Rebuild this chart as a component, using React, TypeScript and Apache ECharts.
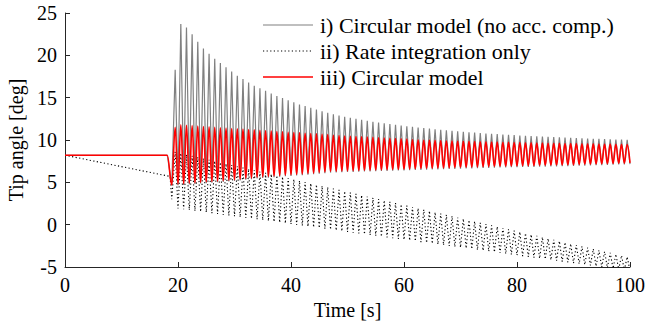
import React, { useEffect, useRef } from "react";
import * as echarts from "echarts";

// Tick labels
const xTicks = [0, 20, 40, 60, 80, 100];
const yTicks = [-5, 0, 5, 10, 15, 20, 25];

// Oscillation timing (one cycle per second, first peak at 19.5 s)
const firstPeakTime = 19.5;
const cyclePeriod = 1.0;

// Lead-in (before oscillation) points [time, value]
const grayLead: [number, number][] = [[0, 8.2], [18.1, 8.2], [18.9, 4.7]];
const redLead: [number, number][] = [[0, 8.2], [18.1, 8.2], [18.9, 4.7]];
const dotLead: [number, number][] = [[0, 8.2], [18.6, 5.7], [18.9, 3.0]];

// i) Circular model (no acc. comp.) – peaks at 19.5 + k s
const grayPeaks = [
  18.3, 23.7, 23.3, 22.5, 21.6, 20.8, 20.2, 19.6, 19.1, 18.6,
  18.1, 17.6, 17.2, 16.8, 16.4, 16.1, 15.8, 15.5, 15.2, 14.95,
  14.7, 14.45, 14.2, 14.0, 13.8, 13.6, 13.4, 13.22, 13.05, 12.9,
  12.75, 12.62, 12.5, 12.38, 12.27, 12.16, 12.06, 11.97, 11.88, 11.8,
  11.7, 11.62, 11.55, 11.48, 11.41, 11.34, 11.27, 11.2, 11.14, 11.08,
  11.02, 10.97, 10.92, 10.87, 10.82, 10.77, 10.73, 10.69, 10.65, 10.61,
  10.57, 10.53, 10.5, 10.46, 10.43, 10.4, 10.37, 10.34, 10.31, 10.28,
  10.25, 10.23, 10.2, 10.18, 10.15, 10.13, 10.11, 10.08, 10.06, 10.04,
  10.02,
];
// troughs at 20 + k s
const grayTroughs = [
  4.65, 4.7, 4.75, 4.8, 4.85, 4.9, 4.95, 5.0, 5.05, 5.1,
  5.15, 5.23, 5.3, 5.37, 5.45, 5.5, 5.55, 5.61, 5.65, 5.71,
  5.75, 5.8, 5.85, 5.9, 5.95, 6.02, 6.08, 6.15, 6.17, 6.19,
  6.21, 6.23, 6.25, 6.27, 6.29, 6.31, 6.33, 6.35, 6.37, 6.39,
  6.41, 6.43, 6.45, 6.47, 6.49, 6.51, 6.53, 6.55, 6.57, 6.59,
  6.61, 6.63, 6.65, 6.67, 6.69, 6.71, 6.73, 6.75, 6.76, 6.78,
  6.79, 6.81, 6.82, 6.83, 6.85, 6.86, 6.87, 6.89, 6.9, 6.92,
  6.94, 6.96, 6.98, 7.0, 7.02, 7.04, 7.06, 7.08, 7.1, 7.12,
  7.15,
];

// iii) Circular model
const redPeaks = [
  11.5, 11.8, 11.75, 11.7, 11.65, 11.6, 11.55, 11.5, 11.45, 11.4,
  11.36, 11.32, 11.28, 11.24, 11.2, 11.15, 11.1, 11.05, 11.0, 10.96,
  10.92, 10.88, 10.84, 10.8, 10.76, 10.72, 10.68, 10.63, 10.56, 10.52,
  10.48, 10.45, 10.41, 10.38, 10.34, 10.31, 10.27, 10.24, 10.2, 10.17,
  10.13, 10.1, 10.06, 10.03, 10.0, 9.98, 9.96, 9.94, 9.92, 9.9,
  9.88, 9.86, 9.84, 9.82, 9.8, 9.78, 9.76, 9.75, 9.73, 9.72,
  9.7, 9.69, 9.67, 9.66, 9.64, 9.63, 9.62, 9.61, 9.6, 9.59,
  9.58, 9.57, 9.56, 9.55, 9.54, 9.53, 9.52, 9.51, 9.5, 9.48,
  9.46,
];
const redTroughs = [
  4.8, 4.85, 4.9, 4.95, 5.0, 5.05, 5.1, 5.15, 5.2, 5.25,
  5.3, 5.38, 5.45, 5.52, 5.6, 5.65, 5.7, 5.76, 5.8, 5.86,
  5.9, 5.95, 6.0, 6.05, 6.1, 6.17, 6.23, 6.3, 6.32, 6.34,
  6.36, 6.38, 6.4, 6.42, 6.44, 6.46, 6.48, 6.5, 6.52, 6.54,
  6.56, 6.58, 6.6, 6.62, 6.64, 6.66, 6.68, 6.7, 6.72, 6.74,
  6.76, 6.78, 6.8, 6.82, 6.84, 6.86, 6.88, 6.9, 6.91, 6.93,
  6.94, 6.96, 6.97, 6.98, 7.0, 7.01, 7.02, 7.04, 7.05, 7.07,
  7.09, 7.11, 7.13, 7.15, 7.17, 7.19, 7.21, 7.23, 7.25, 7.27,
  7.3,
];

// ii) Rate integration only
const dotPeaks = [
  8.6, 8.45, 8.29, 8.14, 7.98, 7.83, 7.67, 7.52, 7.36, 7.21,
  7.05, 6.9, 6.74, 6.59, 6.43, 6.28, 6.12, 5.97, 5.81, 5.66,
  5.5, 5.35, 5.19, 5.04, 4.88, 4.73, 4.57, 4.42, 4.26, 4.11,
  3.95, 3.8, 3.64, 3.49, 3.33, 3.18, 3.02, 2.87, 2.71, 2.56,
  2.4, 2.25, 2.09, 1.94, 1.78, 1.63, 1.47, 1.32, 1.16, 1.01,
  0.85, 0.7, 0.54, 0.39, 0.23, 0.08, -0.08, -0.23, -0.39, -0.54,
  -0.7, -0.85, -1.01, -1.16, -1.32, -1.47, -1.63, -1.78, -1.94, -2.09,
  -2.25, -2.4, -2.56, -2.71, -2.87, -3.02, -3.18, -3.33, -3.49, -3.64,
  -3.8,
];
const dotTroughs = [
  1.9, 1.81, 1.72, 1.62, 1.53, 1.44, 1.35, 1.26, 1.16, 1.07,
  0.98, 0.89, 0.8, 0.7, 0.61, 0.52, 0.43, 0.34, 0.24, 0.15,
  0.06, -0.03, -0.12, -0.22, -0.31, -0.4, -0.49, -0.58, -0.68, -0.77,
  -0.86, -0.95, -1.04, -1.14, -1.23, -1.32, -1.41, -1.5, -1.6, -1.69,
  -1.78, -1.87, -1.96, -2.06, -2.15, -2.24, -2.33, -2.42, -2.52, -2.61,
  -2.7, -2.79, -2.88, -2.98, -3.07, -3.16, -3.25, -3.34, -3.44, -3.53,
  -3.62, -3.71, -3.8, -3.9, -3.99, -4.08, -4.17, -4.26, -4.36, -4.45,
  -4.54, -4.63, -4.72, -4.82, -4.91, -5.0, -5.09, -5.18, -5.28, -5.37,
  -5.46,
];

const seriesNames = [
  "i) Circular model (no acc. comp.)",
  "ii) Rate integration only",
  "iii) Circular model",
];
const seriesColors = ["#808080", "#000000", "#ff0000"];

function buildSeries(lead: [number, number][], peaks: number[], troughs: number[]) {
  const pts: [number, number][] = lead.map((p) => [p[0], p[1]] as [number, number]);
  for (let k = 0; k < peaks.length; k++) {
    const tp = firstPeakTime + k * cyclePeriod;
    pts.push([tp, peaks[k]]);
    pts.push([tp + cyclePeriod / 2, troughs[k]]);
  }
  return pts;
}

const FONT = "Liberation Serif";
const AXIS_COLOR = "#262626";
const DOT_DASH = [1.2, 2.4];

export default function App() {
  const ref = useRef<HTMLDivElement>(null);
  useEffect(() => {
    if (!ref.current) return;
    const chart = echarts.init(ref.current, undefined, { renderer: "svg" });

    const legendTop = 25;
    const legendStep = 26;
    const legendElements: any[] = [];
    seriesNames.forEach((name, i) => {
      const y = legendTop + i * legendStep;
      legendElements.push({
        type: "line",
        shape: { x1: 263, y1: y, x2: 313, y2: y },
        style: {
          stroke: seriesColors[i],
          lineWidth: i === 2 ? 1.5 : i === 0 ? 1.2 : 1.1,
          lineDash: i === 1 ? DOT_DASH : null,
        },
        silent: true,
      });
      legendElements.push({
        type: "text",
        x: 320,
        y: y,
        style: {
          text: name,
          fontFamily: FONT,
          fontSize: 22,
          fill: "#000",
          verticalAlign: "middle",
          align: "left",
        },
        silent: true,
      });
    });

    chart.setOption({
      animation: false,
      backgroundColor: "#ffffff",
      textStyle: { fontFamily: FONT },
      grid: {
        left: 65,
        right: 16,
        top: 13,
        bottom: 58,
        containLabel: false,
        outerBoundsMode: "none",
      },
      graphic: { elements: legendElements },
      xAxis: {
        type: "value",
        min: 0,
        max: 100,
        interval: 20,
        name: "Time [s]",
        nameLocation: "middle",
        nameGap: 31,
        nameTextStyle: { fontFamily: FONT, fontSize: 20, color: "#000" },
        axisLine: { show: true, onZero: false, lineStyle: { color: AXIS_COLOR, width: 1 } },
        axisTick: { show: true, inside: true, length: 5, lineStyle: { color: AXIS_COLOR } },
        axisLabel: {
          fontFamily: FONT,
          fontSize: 20,
          color: "#000",
          margin: 8,
          formatter: (v: number) => (xTicks.includes(v) ? String(v) : ""),
        },
        splitLine: { show: false },
      },
      yAxis: {
        type: "value",
        min: -5,
        max: 25,
        interval: 5,
        name: "Tip angle [deg]",
        nameLocation: "middle",
        nameGap: 37,
        nameRotate: 90,
        nameTextStyle: { fontFamily: FONT, fontSize: 20, color: "#000" },
        axisLine: { show: true, onZero: false, lineStyle: { color: AXIS_COLOR, width: 1 } },
        axisTick: { show: true, inside: true, length: 5, lineStyle: { color: AXIS_COLOR } },
        axisLabel: {
          fontFamily: FONT,
          fontSize: 20,
          color: "#000",
          margin: 8,
          formatter: (v: number) => (yTicks.includes(v) ? String(v) : ""),
        },
        splitLine: { show: false },
      },
      series: [
        {
          name: seriesNames[0],
          type: "line",
          data: buildSeries(grayLead, grayPeaks, grayTroughs),
          symbol: "none",
          lineStyle: { color: seriesColors[0], width: 1.2 },
          clip: true,
        },
        {
          name: seriesNames[1],
          type: "line",
          data: buildSeries(dotLead, dotPeaks, dotTroughs),
          symbol: "none",
          lineStyle: { color: seriesColors[1], width: 1.1, type: DOT_DASH },
          clip: true,
        },
        {
          name: seriesNames[2],
          type: "line",
          data: buildSeries(redLead, redPeaks, redTroughs),
          symbol: "none",
          smooth: 0.4,
          smoothMonotone: "x",
          lineStyle: { color: seriesColors[2], width: 1.6 },
          clip: true,
        },
      ],
    });
    return () => chart.dispose();
  }, []);
  return (
    <div
      ref={ref}
      style={{ position: "fixed", left: 0, top: 0, width: 646, height: 325, background: "#fff" }}
    />
  );
}
